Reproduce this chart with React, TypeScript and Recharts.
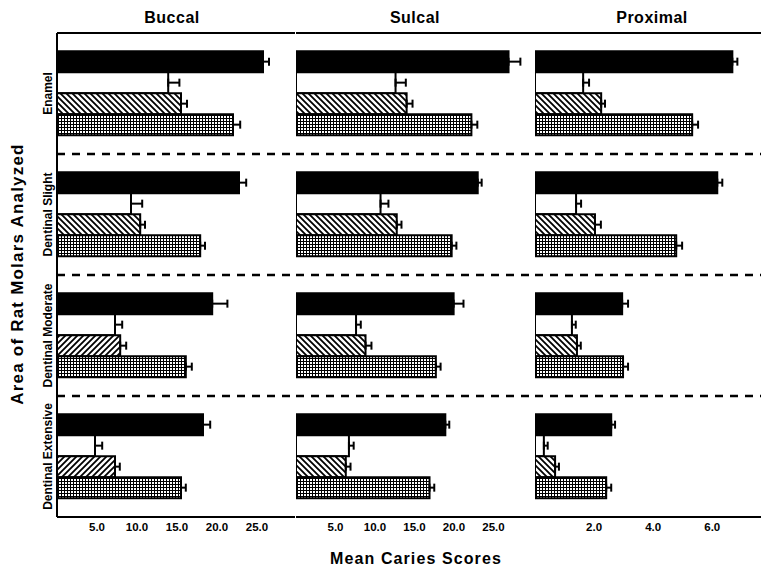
import React from 'react';
import { BarChart, Bar, XAxis, YAxis, ErrorBar, ReferenceLine, Cell } from 'recharts';

const areas = ['Enamel', 'Dentinal Slight', 'Dentinal Moderate', 'Dentinal Extensive'];

// Buccal
const buccalBlack = [25.75, 22.75, 19.4, 18.25];
const buccalBlackErr = [0.75, 0.9, 1.9, 0.9];
const buccalWhite = [13.9, 9.25, 7.25, 4.75];
const buccalWhiteErr = [1.4, 1.4, 0.9, 0.9];
const buccalHatch = [15.5, 10.4, 7.9, 7.25];
const buccalHatchErr = [0.75, 0.6, 0.75, 0.6];
const buccalDots = [22.0, 17.9, 16.1, 15.5];
const buccalDotsErr = [0.9, 0.6, 0.75, 0.6];

// Sulcal
const sulcalBlack = [26.9, 23.0, 19.95, 18.9];
const sulcalBlackErr = [1.5, 0.5, 1.25, 0.5];
const sulcalWhite = [12.6, 10.7, 7.6, 6.7];
const sulcalWhiteErr = [1.3, 1.0, 0.6, 0.6];
const sulcalHatch = [14.0, 12.75, 8.8, 6.3];
const sulcalHatchErr = [0.75, 0.6, 0.75, 0.6];
const sulcalDots = [22.2, 19.7, 17.7, 16.9];
const sulcalDotsErr = [0.75, 0.6, 0.6, 0.6];

// Proximal
const proxBlack = [6.68, 6.17, 2.95, 2.58];
const proxBlackErr = [0.17, 0.17, 0.2, 0.13];
const proxWhite = [1.63, 1.39, 1.25, 0.3];
const proxWhiteErr = [0.2, 0.17, 0.13, 0.13];
const proxHatch = [2.24, 2.03, 1.42, 0.68];
const proxHatchErr = [0.13, 0.2, 0.13, 0.13];
const proxDots = [5.32, 4.78, 2.98, 2.41];
const proxDotsErr = [0.2, 0.2, 0.17, 0.17];

const scoreTicks = [5, 10, 15, 20, 25];
const proxTicks = [2, 4, 6];

// errors only drawn to the right of the bar end
const rows = (black, blackErr, white, whiteErr, hatch, hatchErr, dots, dotsErr) =>
  areas.map((area, i) => ({
    area,
    black: black[i],
    blackErr: [0, blackErr[i]],
    white: white[i],
    whiteErr: [0, whiteErr[i]],
    hatch: hatch[i],
    hatchErr: [0, hatchErr[i]],
    dots: dots[i],
    dotsErr: [0, dotsErr[i]],
  }));

const buccalRows = rows(buccalBlack, buccalBlackErr, buccalWhite, buccalWhiteErr, buccalHatch, buccalHatchErr, buccalDots, buccalDotsErr);
const sulcalRows = rows(sulcalBlack, sulcalBlackErr, sulcalWhite, sulcalWhiteErr, sulcalHatch, sulcalHatchErr, sulcalDots, sulcalDotsErr);
const proxRows = rows(proxBlack, proxBlackErr, proxWhite, proxWhiteErr, proxHatch, proxHatchErr, proxDots, proxDotsErr);

const FONT = '"Liberation Sans", Arial, sans-serif';

const AreaTick = (props: any) => {
  const { y, payload } = props;
  return (
    <g transform={`translate(20,${y})`}>
      <text transform="rotate(-90)" textAnchor="middle" dy="0.36em"
        fontSize={12} fontWeight={700} fill="#000" fontFamily={FONT}>
        {payload.value}
      </text>
    </g>
  );
};

const Patterns = ({ id }: { id: string }) => (
  <defs>
    <pattern id={`${id}-back`} width="6" height="6" patternUnits="userSpaceOnUse">
      <rect width="6" height="6" fill="#fff" />
      <path d="M0,0 L6,6 M-1,5 L1,7 M5,-1 L7,1" stroke="#000" strokeWidth="1.8" />
    </pattern>
    <pattern id={`${id}-fwd`} width="6" height="6" patternUnits="userSpaceOnUse">
      <rect width="6" height="6" fill="#fff" />
      <path d="M0,6 L6,0 M-1,1 L1,-1 M5,7 L7,5" stroke="#000" strokeWidth="1.8" />
    </pattern>
    <pattern id={`${id}-dots`} width="3" height="3" patternUnits="userSpaceOnUse">
      <rect width="3" height="3" fill="#fff" />
      <path d="M0,0.5 H3 M0.5,0 V3" stroke="#000" strokeWidth="1" />
    </pattern>
  </defs>
);

function Panel({ id, data, max, ticks, left, width, yWidth, labels, hatchDir }: any) {
  return (
    <div style={{ position: 'absolute', left, top: 31 }}>
      <BarChart layout="vertical" width={width} height={516} data={data}
        margin={{ top: 2, right: 0, bottom: 0, left: 2 }} barCategoryGap="15%" barGap={0}>
        <Patterns id={id} />
        <XAxis type="number" domain={[0, max]} ticks={ticks} tickFormatter={(v: number) => v.toFixed(1)}
          axisLine={{ stroke: '#000', strokeWidth: 2 }} tickLine={false} tickSize={4} height={30}
          tick={{ fill: '#000', fontSize: 11.5, fontWeight: 700, fontFamily: FONT }} allowDataOverflow />
        <YAxis type="category" dataKey="area" width={yWidth} axisLine={{ stroke: '#000', strokeWidth: 2 }}
          tickLine={false} tick={labels ? <AreaTick /> : false} />
        <ReferenceLine y={areas[0]} position="start" stroke="#000" strokeWidth={2} />
        {areas.slice(1).map((a) => (
          <ReferenceLine key={a} y={a} position="start" stroke="#000" strokeWidth={2.5} strokeDasharray="8 7" />
        ))}
        <Bar dataKey="black" fill="#000" stroke="#000" strokeWidth={2} isAnimationActive={false}>
          <ErrorBar dataKey="blackErr" direction="x" width={4} stroke="#000" strokeWidth={2} />
        </Bar>
        <Bar dataKey="white" fill="#fff" stroke="#000" strokeWidth={2} isAnimationActive={false}>
          <ErrorBar dataKey="whiteErr" direction="x" width={4} stroke="#000" strokeWidth={2} />
        </Bar>
        <Bar dataKey="hatch" stroke="#000" strokeWidth={2} isAnimationActive={false}>
          {data.map((d: any, i: number) => (
            <Cell key={d.area} fill={`url(#${id}-${hatchDir[i]})`} />
          ))}
          <ErrorBar dataKey="hatchErr" direction="x" width={4} stroke="#000" strokeWidth={2} />
        </Bar>
        <Bar dataKey="dots" fill={`url(#${id}-dots)`} stroke="#000" strokeWidth={2} isAnimationActive={false}>
          <ErrorBar dataKey="dotsErr" direction="x" width={4} stroke="#000" strokeWidth={2} />
        </Bar>
      </BarChart>
    </div>
  );
}

const titleStyle: React.CSSProperties = {
  position: 'absolute', top: 8, width: 160, height: 20, lineHeight: '20px', textAlign: 'center',
  fontSize: 16, fontWeight: 700, letterSpacing: 0.5,
};

export default function App() {
  return (
    <div style={{ position: 'absolute', left: 0, top: 0, width: 761, height: 569, background: '#fff', fontFamily: FONT, color: '#000', overflow: 'hidden' }}>
      <div style={{ ...titleStyle, left: 172 - 80 }}>Buccal</div>
      <div style={{ ...titleStyle, left: 415 - 80 }}>Sulcal</div>
      <div style={{ ...titleStyle, left: 652 - 80 }}>Proximal</div>

      <Panel id="b" data={buccalRows} max={29.75} ticks={scoreTicks} left={28} width={267} yWidth={27} labels
        hatchDir={['back', 'back', 'fwd', 'fwd']} />
      <Panel id="s" data={sulcalRows} max={30.25} ticks={scoreTicks} left={294} width={241} yWidth={0}
        hatchDir={['back', 'back', 'back', 'back']} />
      <Panel id="p" data={proxRows} max={7.65} ticks={proxTicks} left={533} width={228} yWidth={0}
        hatchDir={['back', 'back', 'back', 'back']} />

      <div style={{ position: 'absolute', left: 18 - 160, top: 274 - 11, width: 320, height: 22, lineHeight: '22px', textAlign: 'center',
        transform: 'rotate(-90deg)', fontSize: 17, fontWeight: 700, letterSpacing: 1.2 }}>
        Area of Rat Molars Analyzed
      </div>
      <div style={{ position: 'absolute', left: 416 - 150, top: 549, width: 300, height: 20, lineHeight: '20px', textAlign: 'center',
        fontSize: 16, fontWeight: 700, letterSpacing: 1.1 }}>
        Mean Caries Scores
      </div>
    </div>
  );
}
